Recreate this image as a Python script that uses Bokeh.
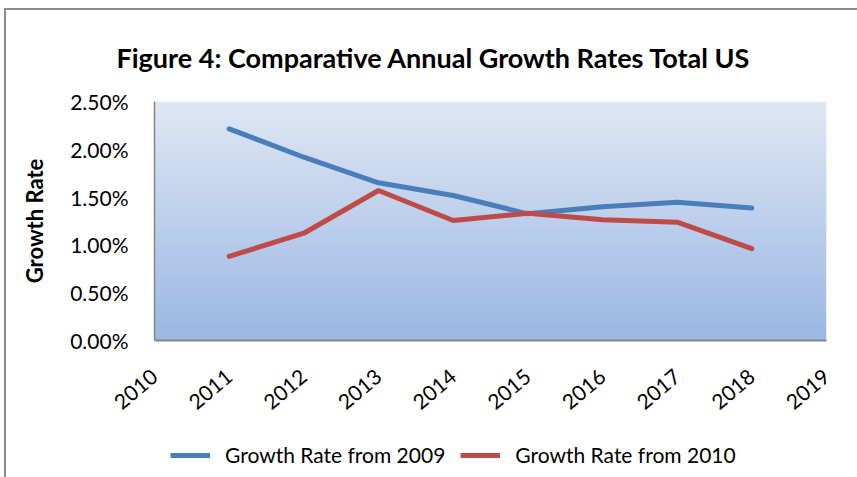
import numpy as np
from bokeh.plotting import figure
from bokeh.layouts import column
from bokeh.models import Legend, LegendItem, FixedTicker, NumeralTickFormatter, Range1d
from bokeh.embed import file_html
from bokeh.resources import INLINE

# ---- data ----
tick_years = [2010, 2011, 2012, 2013, 2014, 2015, 2016, 2017, 2018, 2019]
years = [2011, 2012, 2013, 2014, 2015, 2016, 2017, 2018]
growth_2009 = [0.02214, 0.01917, 0.01650, 0.01517, 0.01325, 0.01400, 0.01445, 0.01385]
growth_2010 = [0.00880, 0.01122, 0.01569, 0.01255, 0.01330, 0.01262, 0.01238, 0.00960]
y_ticks = [0.0, 0.005, 0.010, 0.015, 0.020, 0.025]
series_names = ["Growth Rate from 2009", "Growth Rate from 2010"]
series_colors = ["#4A7EBB", "#BE4B48"]

FONT = "Lato"

main = figure(frame_width=672, frame_height=239, output_backend="svg", toolbar_location=None,
              x_range=Range1d(tick_years[0], tick_years[-1]),
              y_range=Range1d(y_ticks[0], y_ticks[-1]),
              min_border_left=148, min_border_right=31, min_border_top=91, min_border_bottom=100)

# gradient background
n = 120
top = np.array([223, 231, 243])
bot = np.array([155, 184, 228])
t = np.linspace(0, 1, n)[:, None]
cols = (bot * (1 - t) + top * t).astype(np.uint32)
img = np.empty((n, 1), dtype=np.uint32)
view = img.view(dtype=np.uint8).reshape((n, 1, 4))
view[:, 0, 0] = cols[:, 0]
view[:, 0, 1] = cols[:, 1]
view[:, 0, 2] = cols[:, 2]
view[:, 0, 3] = 255
main.image_rgba(image=[img], x=tick_years[0], y=y_ticks[0],
                dw=tick_years[-1] - tick_years[0], dh=y_ticks[-1] - y_ticks[0])

main.background_fill_color = None
main.outline_line_color = None

main.line(years, growth_2009, line_color=series_colors[0], line_width=5, line_cap="round")
main.line(years, growth_2010, line_color=series_colors[1], line_width=5, line_cap="round")

# title
main.title.text = "Figure 4: Comparative Annual Growth Rates Total US"
main.title.text_font = FONT
main.title.text_font_size = "27px"
main.title.text_font_style = "bold"
main.title.text_color = "#000000"
main.title.align = "left"
main.title.offset = -38
main.title.standoff = 56

# axes
main.xaxis.ticker = FixedTicker(ticks=tick_years)
main.xaxis.major_label_orientation = 0.70
main.xaxis.major_label_text_font = FONT
main.xaxis.major_label_text_font_size = "21px"
main.xaxis.major_label_text_color = "#000000"
main.xaxis.major_tick_line_color = None
main.xaxis.minor_tick_line_color = None
main.xaxis.axis_line_color = "#868686"
main.xaxis.axis_line_width = 2
main.xaxis.major_label_standoff = 27

main.yaxis.ticker = FixedTicker(ticks=y_ticks)
main.yaxis.formatter = NumeralTickFormatter(format="0.00%")
main.yaxis.major_label_text_font = FONT
main.yaxis.major_label_text_font_size = "21px"
main.yaxis.major_label_text_color = "#000000"
main.yaxis.major_tick_line_color = None
main.yaxis.minor_tick_line_color = None
main.yaxis.axis_line_color = "#868686"
main.yaxis.axis_line_width = 1.5
main.yaxis.major_label_standoff = 20
main.yaxis.axis_label = "Growth Rate"
main.yaxis.axis_label_text_font = FONT
main.yaxis.axis_label_text_font_size = "22px"
main.yaxis.axis_label_text_font_style = "bold"
main.yaxis.axis_label_text_color = "#000000"
main.yaxis.axis_label_standoff = 19

main.xgrid.grid_line_color = None
main.ygrid.grid_line_color = "#868686"
main.ygrid.grid_line_width = 1.5

# legend strip below the chart (series drawn out of view; only the legend shows)
leg = figure(width=851, height=37, output_backend="svg", toolbar_location=None,
             x_range=Range1d(0, 1), y_range=Range1d(0, 1),
             min_border=0, min_border_left=0, min_border_right=0,
             min_border_top=0, min_border_bottom=0)
leg.axis.visible = False
leg.grid.visible = False
leg.outline_line_color = None
d1 = leg.line(years, growth_2009, line_color=series_colors[0], line_width=5)
d2 = leg.line(years, growth_2010, line_color=series_colors[1], line_width=5)
legend = Legend(items=[LegendItem(label=series_names[0], renderers=[d1]),
                       LegendItem(label=series_names[1], renderers=[d2])],
                orientation="horizontal", location=(16, 10),
                glyph_width=40, glyph_height=20, label_standoff=15, spacing=15,
                padding=0, margin=0, border_line_color=None, background_fill_alpha=0,
                label_text_font=FONT, label_text_font_size="21px", label_text_color="#000000")
leg.add_layout(legend, "center")

p = column(main, leg, spacing=0)
p.styles = {"border-top": "2px solid #8c8c8c", "border-left": "2px solid #8c8c8c",
            "margin-left": "4px", "margin-top": "8px"}

open("out.html", "w").write(file_html(p, INLINE))
